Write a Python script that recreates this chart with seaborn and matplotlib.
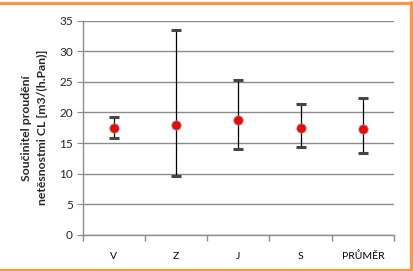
import matplotlib
matplotlib.use("Agg")
import matplotlib.pyplot as plt
from matplotlib.lines import Line2D
import numpy as np
import pandas as pd
import seaborn as sns

# ----------------- data -----------------
categories = ["V", "Z", "J", "S", "PRŮMĚR"]
mean_vals = [17.5, 17.9, 18.8, 17.4, 17.3]
max_vals = [19.2, 33.4, 25.3, 21.4, 22.3]
min_vals = [15.9, 9.6, 14.0, 14.3, 13.3]

df = pd.DataFrame({"cat": categories, "mean": mean_vals})

sns.set_style("white")
plt.rcParams["font.family"] = ["Lato", "DejaVu Sans"]

fig = plt.figure(figsize=(4.13, 2.71), dpi=100)
ax = fig.add_axes([0.200, 0.133, 0.754, 0.791])

x = np.arange(len(categories))
mean = np.array(mean_vals)
err = [mean - np.array(min_vals), np.array(max_vals) - mean]

# whiskers
ax.errorbar(x, mean, yerr=err, fmt="none", ecolor="black", elinewidth=0.9,
            capsize=0, zorder=2)
# caps (thick dark grey)
ax.scatter(x, max_vals, marker="_", s=55, linewidths=2.2, color="#454545", zorder=3)
ax.scatter(x, min_vals, marker="_", s=55, linewidths=2.2, color="#454545", zorder=3)

sns.scatterplot(data=df, x="cat", y="mean", ax=ax, color="#ff0000", s=45,
                edgecolor="#8c8c8c", linewidth=0.6, zorder=4, legend=False)

ax.set_xlim(-0.5, len(categories) - 0.5)
ax.set_ylim(0, 35)
ax.set_yticks(range(0, 36, 5))
ax.yaxis.grid(True, color="#8c8c8c", linewidth=1.0)
ax.set_axisbelow(True)

for side in ["top", "right"]:
    ax.spines[side].set_visible(False)
for side in ["left", "bottom"]:
    ax.spines[side].set_color("#8c8c8c")
    ax.spines[side].set_linewidth(1.0)

ax.set_xticks(x)
ax.set_xticklabels(categories)
ax.tick_params(axis="x", length=0, labelsize=7.5, pad=12, colors="#000000")
ax.tick_params(axis="y", left=True, length=4, color="#8c8c8c", labelsize=8.5, pad=3)
# boundary tick marks between categories
ax.set_xticks(np.arange(-0.5, len(categories)), minor=True)
ax.tick_params(axis="x", which="minor", bottom=True, length=4, color="#8c8c8c", width=1.0)

ax.set_xlabel("")
ax.set_ylabel("Součinitel proudění\nnetěsnostmi CL [m3/(h.Pan)]",
              fontsize=8.8, fontweight="bold", labelpad=8, linespacing=1.55)

# orange frame around chart
fig.add_artist(Line2D([0, 1], [1 - 3.3 / 271, 1 - 3.3 / 271], transform=fig.transFigure,
                      color="#f79646", linewidth=2.3))
fig.add_artist(Line2D([1 - 1.8 / 413, 1 - 1.8 / 413], [0, 1 - 2 / 271], transform=fig.transFigure,
                      color="#f79646", linewidth=2.3))
fig.add_artist(Line2D([0, 1], [1.5 / 271, 1.5 / 271], transform=fig.transFigure,
                      color="#f79646", linewidth=2.3))

fig.savefig("out.png", dpi=100)
